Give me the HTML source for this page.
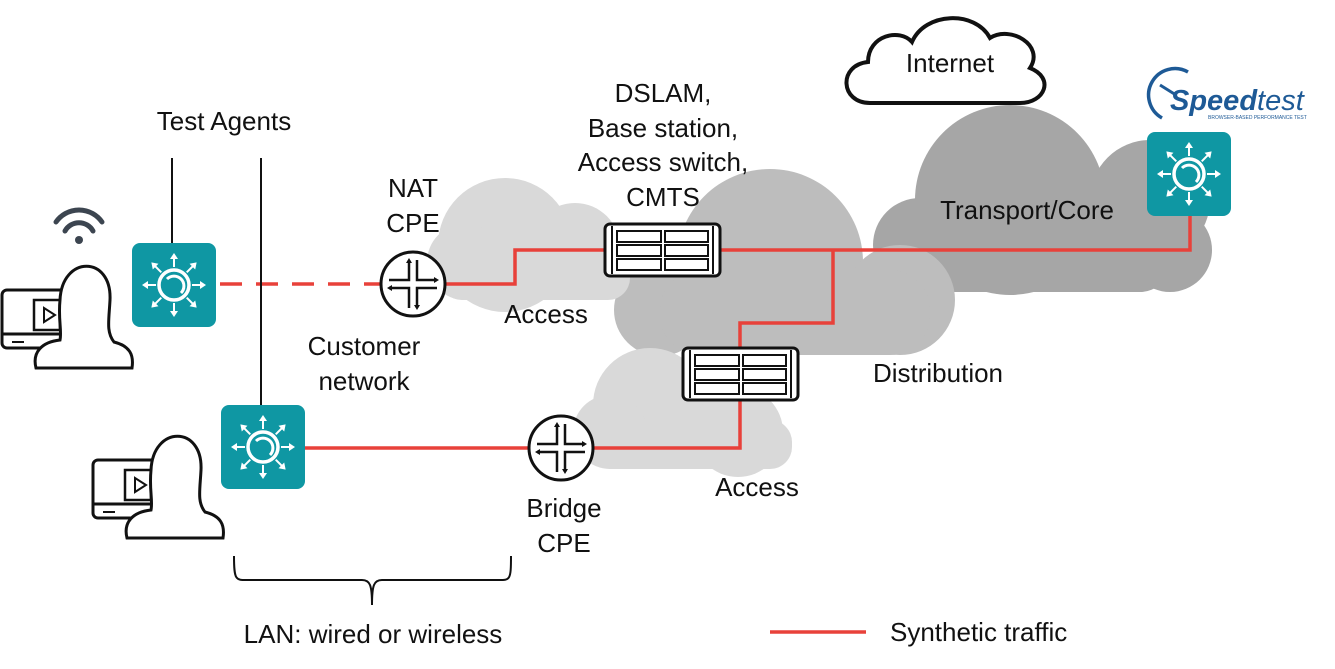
<!DOCTYPE html>
<html><head><meta charset="utf-8"><style>
html,body{margin:0;padding:0;background:#fff;}
svg{display:block;}
text{font-family:"Liberation Sans",sans-serif;font-size:26px;fill:#111;}
</style></head><body>
<svg width="1335" height="669" viewBox="0 0 1335 669" xmlns="http://www.w3.org/2000/svg">
<defs>
<g id="arr">
<line x1="0" y1="-18" x2="0" y2="-27" stroke="#fff" stroke-width="2"/>
<path d="M-4,-26 L0,-32 L4,-26 Z" fill="#fff"/>
</g>
<g id="agent">
<rect x="0" y="0" width="84" height="84" rx="8" fill="#0f97a3"/>
<g transform="translate(42,42)">
<use href="#arr"/><use href="#arr" transform="rotate(45)"/><use href="#arr" transform="rotate(90)"/><use href="#arr" transform="rotate(135)"/>
<use href="#arr" transform="rotate(180)"/><use href="#arr" transform="rotate(225)"/><use href="#arr" transform="rotate(270)"/><use href="#arr" transform="rotate(315)"/>
<circle r="15" fill="none" stroke="#fff" stroke-width="3.5"/>
<path d="M-7,-6 A9,9 0 1 1 7,8" fill="none" stroke="#fff" stroke-width="3"/>
</g>
</g>
<g id="router">
<circle r="32" fill="#fff" stroke="#111" stroke-width="3"/>
<path d="M-4,-24 V-4 H-24 M4,-24 V-4 H24 M-4,24 V4 H-24 M4,24 V4 H24" fill="none" stroke="#111" stroke-width="2.5"/>
<path d="M-4,-26 l-3,5 h6z M4,26 l-3,-5 h6z M-26,4 l5,-3 v6z M26,-4 l-5,-3 v6z" fill="#111"/>
</g>
<g id="switch">
<rect x="0" y="0" width="115" height="52" rx="5" fill="#fff" stroke="#111" stroke-width="3"/>
<line x1="7" y1="2" x2="7" y2="50" stroke="#111" stroke-width="2"/>
<line x1="108" y1="2" x2="108" y2="50" stroke="#111" stroke-width="2"/>
<g fill="none" stroke="#111" stroke-width="2">
<rect x="12" y="7" width="44" height="11"/><rect x="60" y="7" width="43" height="11"/>
<rect x="12" y="21" width="44" height="11"/><rect x="60" y="21" width="43" height="11"/>
<rect x="12" y="35" width="44" height="11"/><rect x="60" y="35" width="43" height="11"/>
</g>
</g>
<g id="person">
<rect x="0" y="0" width="70" height="58" rx="5" fill="#fff" stroke="#111" stroke-width="3"/>
<line x1="0" y1="44" x2="70" y2="44" stroke="#111" stroke-width="3"/>
<line x1="10" y1="52" x2="22" y2="52" stroke="#111" stroke-width="2"/>
<rect x="32" y="10" width="26" height="30" fill="#fff" stroke="#111" stroke-width="2.5"/>
<path d="M42,18 L53,25 L42,32 Z" fill="none" stroke="#111" stroke-width="2"/>
<path d="M34,78 C30,62 40,52 58,50 C60,40 56,30 58,10 C60,-35 110,-35 108,10 C107,30 104,42 112,52 C128,56 132,65 130,78 Z" fill="#fff" stroke="#111" stroke-width="3"/>
</g>
</defs>

<!-- clouds -->
<g fill="#a6a6a6">
<circle cx="1010" cy="200" r="95"/><circle cx="920" cy="245" r="47"/><circle cx="1150" cy="200" r="60"/><circle cx="1170" cy="250" r="42"/>
<rect x="920" y="200" width="250" height="92" rx="30"/>
</g>
<g fill="#bdbdbd">
<circle cx="770" cy="262" r="93"/><circle cx="900" cy="300" r="55"/><circle cx="660" cy="310" r="46"/>
<rect x="660" y="270" width="270" height="85" rx="40"/>
</g>
<g fill="#d9d9d9">
<circle cx="505" cy="245" r="67"/><circle cx="575" cy="248" r="45"/><circle cx="465" cy="262" r="38"/>
<rect x="440" y="250" width="190" height="50" rx="22"/>
<circle cx="650" cy="405" r="57"/><circle cx="738" cy="432" r="45"/><circle cx="610" cy="432" r="37"/>
<rect x="590" y="420" width="202" height="49" rx="22"/>
</g>
<!-- internet cloud -->
<path d="M870,103 C840,103 838,65 868,62 C868,35 900,28 912,42 C925,12 975,10 990,38 C1010,25 1045,45 1030,68 C1055,78 1045,103 1020,103 Z" fill="#fff" stroke="#111" stroke-width="4"/>
<text x="950" y="72" text-anchor="middle">Internet</text>

<!-- lines -->
<g stroke="#e8413a" stroke-width="3.5" fill="none">
<line x1="220" y1="284" x2="380" y2="284" stroke-dasharray="22,14"/>
<path d="M446,284 H515 V250 H605"/>
<path d="M720,250 H1190 V214"/>
<path d="M833,250 V323 H740 V348"/>
<path d="M740,400 V448 H594"/>
<line x1="305" y1="448" x2="528" y2="448"/>
<line x1="770" y1="632" x2="866" y2="632"/>
</g>
<g stroke="#111" stroke-width="2">
<line x1="172" y1="158" x2="172" y2="243"/>
<line x1="261" y1="158" x2="261" y2="405"/>
</g>
<path d="M234,556 C234,582 236,580 250,580 H362 C370,580 372,585 372,605 C372,585 374,580 382,580 H495 C510,580 511,582 511,556" fill="none" stroke="#111" stroke-width="2"/>

<use href="#person" x="2" y="290"/>
<use href="#person" x="93" y="460"/>
<!-- wifi -->
<g fill="none" stroke="#3c4550" stroke-width="5" stroke-linecap="round">
<path d="M56,222 A28,28 0 0 1 102,222"/><path d="M65,231 A16,16 0 0 1 93,231"/>
</g>
<circle cx="79" cy="240" r="4" fill="#3c4550"/>

<use href="#agent" x="132" y="243"/>
<use href="#agent" x="221" y="405"/>
<use href="#agent" x="1147" y="132"/>
<use href="#router" x="413" y="284"/>
<use href="#router" x="561" y="448"/>
<use href="#switch" x="605" y="224"/>
<use href="#switch" x="683" y="348"/>

<!-- speedtest logo -->
<path d="M1188,72 A26,26 0 1 0 1162,118" fill="none" stroke="#1e5a96" stroke-width="3.5"/>
<line x1="1160" y1="85" x2="1176" y2="95" stroke="#1e5a96" stroke-width="3"/>
<text x="1170" y="110" style="font-size:29px;fill:#1e5a96;font-style:italic;font-weight:bold">Speed<tspan style="font-weight:normal">test</tspan></text>
<text x="1208" y="119" style="font-size:5px;fill:#1e5a96">BROWSER-BASED PERFORMANCE TEST</text>

<!-- labels -->
<text x="224" y="130" text-anchor="middle">Test Agents</text>
<text x="413" y="197" text-anchor="middle">NAT</text>
<text x="413" y="232" text-anchor="middle">CPE</text>
<text x="663" y="102" text-anchor="middle">DSLAM,</text>
<text x="663" y="137" text-anchor="middle">Base station,</text>
<text x="663" y="171" text-anchor="middle">Access switch,</text>
<text x="663" y="206" text-anchor="middle">CMTS</text>
<text x="1027" y="219" text-anchor="middle">Transport/Core</text>
<text x="546" y="323" text-anchor="middle">Access</text>
<text x="364" y="355" text-anchor="middle">Customer</text>
<text x="364" y="390" text-anchor="middle">network</text>
<text x="938" y="382" text-anchor="middle">Distribution</text>
<text x="757" y="496" text-anchor="middle">Access</text>
<text x="564" y="517" text-anchor="middle">Bridge</text>
<text x="564" y="552" text-anchor="middle">CPE</text>
<text x="373" y="643" text-anchor="middle">LAN: wired or wireless</text>
<text x="890" y="641">Synthetic traffic</text>
</svg>
</body></html>
